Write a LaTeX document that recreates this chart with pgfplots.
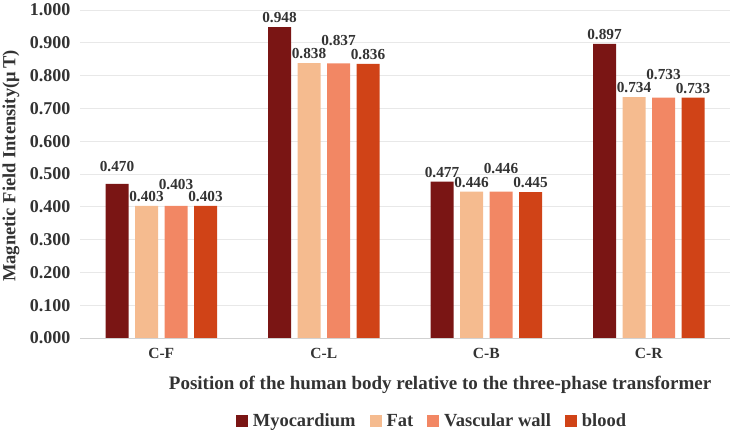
\documentclass[border=0pt]{standalone}
\usepackage{pgfplots}
\pgfplotsset{compat=1.18}
\usepackage{pgfplotstable}
\usepackage{fontspec}
\setmainfont{Liberation Serif}

\definecolor{myo}{RGB}{122,21,20}
\definecolor{fat}{RGB}{245,187,143}
\definecolor{vasc}{RGB}{242,135,100}
\definecolor{blood}{RGB}{208,67,23}

% x = position index, y = field intensity, dy = extra lift of the value label
\pgfplotstableread{
x y dy
0 0.470 8
1 0.948 0
2 0.477 0
3 0.897 0
}\myocardium
\pgfplotstableread{
x y dy
0 0.403 0
1 0.838 0
2 0.446 0
3 0.734 0
}\fat
\pgfplotstableread{
x y dy
0 0.403 12
1 0.837 14
2 0.446 14
3 0.733 14
}\vascular
\pgfplotstableread{
x y dy
0 0.403 0
1 0.836 0
2 0.445 0
3 0.733 0
}\blood

\begin{document}
\begin{tikzpicture}
\useasboundingbox (0,0) rectangle (732bp,435bp);
\begin{axis}[
  at={(80bp,97bp)}, anchor=south west,
  scale only axis, width=650bp, height=328bp,
  ybar=6.5bp, bar width=23bp,
  xmin=-0.5, xmax=3.5, ymin=0, ymax=1,
  xtick={0,1,2,3}, xticklabels={C-F,C-L,C-B,C-R},
  ytick={0,0.1,...,1.0},
  major tick length=0pt,
  axis x line*=bottom, axis y line*=left,
  x axis line style={draw=black!18, line width=1bp, -},
  y axis line style={draw=none},
  ymajorgrids, grid style={draw=black!9, line width=0.8bp},
  /pgf/number format/assume math mode=true,
  yticklabel style={/pgf/number format/.cd, fixed, fixed zerofill, precision=3, /tikz/.cd,
    font=\fontsize{18bp}{20bp}\selectfont\bfseries, text=black!80, xshift=-6bp},
  xticklabel style={font=\fontsize{15.5bp}{18bp}\selectfont\bfseries, text=black!80, yshift=-7bp},
  xlabel={Position of the human body relative to the three-phase transformer},
  xlabel style={at={(axis description cs:0.554,-0.143)}, anchor=center,
    font=\fontsize{19bp}{22bp}\selectfont\bfseries, text=black!80},
  ylabel={Magnetic Field Intensity(μ\,T)},
  ylabel style={at={(axis description cs:-0.106,0.524)}, anchor=center,
    font=\fontsize{18.5bp}{20bp}\selectfont\bfseries, text=black!80},
  nodes near coords,
  visualization depends on={\thisrow{dy} \as \dy},
  nodes near coords style={/pgf/number format/.cd, fixed, fixed zerofill, precision=3,
    assume math mode=true, /tikz/.cd,
    font=\fontsize{15.3bp}{17bp}\selectfont\bfseries, text=black!80,
    anchor=south, inner sep=1bp, yshift=3bp+\dy bp},
  legend columns=4,
  legend style={at={(0.5415,-0.253)}, anchor=center, draw=none, fill=none,
    font=\fontsize{18.5bp}{20bp}\selectfont\bfseries, text=black!80,
    /tikz/every odd column/.append style={column sep=3bp},
    /tikz/every even column/.append style={column sep=12bp},
    inner sep=0pt},
  legend image code/.code={\fill[#1] (0bp,-6bp) rectangle (12bp,6bp);},
]
\addplot[fill=myo, draw=none] table[x=x, y=y] {\myocardium};
\addplot[fill=fat, draw=none] table[x=x, y=y] {\fat};
\addplot[fill=vasc, draw=none] table[x=x, y=y] {\vascular};
\addplot[fill=blood, draw=none] table[x=x, y=y] {\blood};
\legend{Myocardium, Fat, Vascular wall, blood}
\end{axis}
\end{tikzpicture}
\end{document}
